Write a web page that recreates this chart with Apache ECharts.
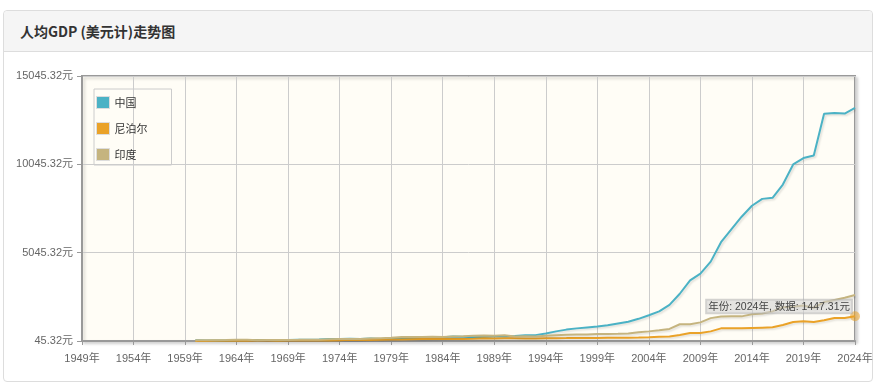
<!DOCTYPE html>
<html>
<head>
<meta charset="utf-8">
<script src="https://cdn.jsdelivr.net/npm/echarts@6/dist/echarts.min.js"></script>
<style>
  html, body { margin: 0; padding: 0; background: #fff; width: 884px; height: 388px; overflow: hidden; }
  #panel { position: absolute; left: 3px; top: 10px; width: 870px; height: 372px; border: 1px solid #ddd; border-radius: 4px; box-sizing: border-box; }
  #head { height: 41px; background: #f5f5f5; border-bottom: 1px solid #ddd; border-radius: 4px 4px 0 0; box-sizing: border-box;
          font: bold 14px "Noto Sans CJK SC", sans-serif; color: #333; line-height: 40px; padding-left: 16px; }
  #chart { position: absolute; left: 0; top: 0; width: 884px; height: 388px; }
</style>
</head>
<body>
<div id="panel"><div id="head">人均GDP (美元计)走势图</div></div>
<div id="chart"></div>
<script>
// ---- data ----
const seriesNames = ['中国', '尼泊尔', '印度'];
const firstYear = 1960;
const xTickStart = 1949, xTickEnd = 2024;
const yTickLabels = ['45.32元', '5045.32元', '10045.32元', '15045.32元'];
const china = [
  89.5, 75.8, 70.9, 74.3, 85.5, 98.5, 104.3, 96.6, 91.5, 100.1,
  113.2, 118.7, 131.9, 157.1, 160.1, 178.3, 165.4, 185.4, 156.4, 183.9,
  194.8, 197.1, 203.3, 225.4, 250.7, 294.5, 281.9, 251.8, 283.5, 310.9,
  317.9, 333.1, 366.5, 377.4, 473.5, 590, 690, 760, 810, 860,
  940, 1040, 1140, 1300, 1500, 1720, 2090, 2720, 3480, 3860,
  4540, 5640, 6370, 7080, 7700, 8090, 8150, 8900, 10040, 10400,
  10550, 12910, 12950, 12920, 13240
];
const nepal = [
  50, 52, 55, 58, 60, 64, 72, 68, 66, 68,
  70, 70, 75, 74, 88, 110, 105, 100, 115, 125,
  135, 150, 155, 155, 160, 165, 165, 175, 195, 190,
  195, 200, 180, 185, 195, 205, 210, 222, 210, 215,
  228, 235, 232, 245, 262, 288, 300, 385, 495, 495,
  590, 760, 760, 760, 780, 800, 820, 950, 1120, 1160,
  1120, 1215, 1345, 1350, 1447.31
];
const india = [
  82.2, 85.4, 89.9, 101.1, 115.5, 119.0, 89.9, 96.0, 99.3, 107.6,
  112.4, 118.6, 122.6, 143.9, 163.2, 158.0, 161.2, 186.2, 205.7, 224.0,
  266.6, 270.5, 274.1, 291.2, 276.7, 296.4, 310.5, 340.4, 354.2, 346.1,
  368.8, 303.1, 316.9, 301.2, 346.2, 373.8, 399.6, 415.5, 413.3, 441.8,
  443.3, 451.6, 470.0, 546.7, 590, 650, 730, 995, 990, 1100,
  1340, 1430, 1440, 1440, 1555, 1600, 1720, 1960, 1980, 2060,
  1920, 2250, 2370, 2490, 2650
];
const colors = ['#4bb2c5', '#eaa228', '#c5b47f'];

// ---- build ----
const toPairs = arr => arr.map((v, i) => [firstYear + i, v]);
const yMin = parseFloat(yTickLabels[0]);
const yMax = parseFloat(yTickLabels[yTickLabels.length - 1]);
const yStep = parseFloat(yTickLabels[1]) - yMin;
const lastYear = firstYear + nepal.length - 1;
const lastNepal = nepal[nepal.length - 1];

const font = '"Liberation Sans", "Noto Sans CJK SC", sans-serif';
const lineShadow = { shadowColor: 'rgba(0,0,0,0.12)', shadowBlur: 2, shadowOffsetX: 1.5, shadowOffsetY: 1.5 };

const chart = echarts.init(document.getElementById('chart'));
chart.setOption({
  animation: false,
  color: colors,
  grid: {
    left: 82, right: 29, top: 76, bottom: 47,
    show: true, backgroundColor: '#fffdf6', borderColor: '#999', borderWidth: 2,
    shadowColor: 'rgba(0,0,0,0.15)', shadowBlur: 3, shadowOffsetX: 2, shadowOffsetY: 2
  },
  legend: {
    orient: 'vertical', left: 94, top: 89,
    padding: [7, 24, 4, 2],
    borderColor: '#ccc', borderWidth: 1,
    itemWidth: 13, itemHeight: 12, itemGap: 13,
    icon: 'rect',
    itemStyle: { borderColor: '#ddd', borderWidth: 1 },
    textStyle: { fontSize: 11, color: '#333', fontFamily: '"Noto Sans CJK SC", sans-serif' },
    data: seriesNames
  },
  xAxis: {
    type: 'value', min: xTickStart, max: xTickEnd, interval: 5,
    axisLine: { show: true, onZero: false, lineStyle: { color: '#999', width: 2 } },
    axisTick: { show: true, length: 4, lineStyle: { color: '#999' } },
    axisLabel: { formatter: v => v + '年', color: '#666', fontSize: 11, fontFamily: font, margin: 12 },
    splitLine: { show: true, lineStyle: { color: '#ccc', width: 1 } }
  },
  yAxis: {
    type: 'value', min: yMin, max: yMax, interval: yStep,
    axisLine: { show: true, lineStyle: { color: '#999', width: 2 } },
    axisTick: { show: true, length: 5, lineStyle: { color: '#999' } },
    axisLabel: { formatter: v => v.toFixed(2) + '元', color: '#666', fontSize: 11, fontFamily: font, margin: 9 },
    splitLine: { show: true, lineStyle: { color: '#ccc', width: 1 } }
  },
  series: [
    { name: seriesNames[0], type: 'line', data: toPairs(china), showSymbol: false, lineStyle: Object.assign({ width: 2 }, lineShadow) },
    { name: seriesNames[1], type: 'line', data: toPairs(nepal), showSymbol: false, lineStyle: Object.assign({ width: 2 }, lineShadow),
      markPoint: {
        silent: true,
        symbol: 'circle', symbolSize: 10,
        itemStyle: { color: 'rgba(234,162,40,0.55)' },
        data: [{ coord: [lastYear, lastNepal] }],
        label: {
          show: true,
          formatter: '年份: ' + lastYear + '年, 数据: ' + lastNepal.toFixed(2) + '元',
          position: [2, 2], align: 'right', verticalAlign: 'bottom',
          color: '#444', fontSize: 10.5, fontFamily: font,
          backgroundColor: 'rgba(208,208,208,0.55)', borderColor: 'rgba(170,170,170,0.5)', borderWidth: 1,
          padding: [2, 2, 1, 2]
        }
      }
    },
    { name: seriesNames[2], type: 'line', data: toPairs(india), showSymbol: false, lineStyle: Object.assign({ width: 2 }, lineShadow) }
  ]
});
</script>
</body>
</html>
